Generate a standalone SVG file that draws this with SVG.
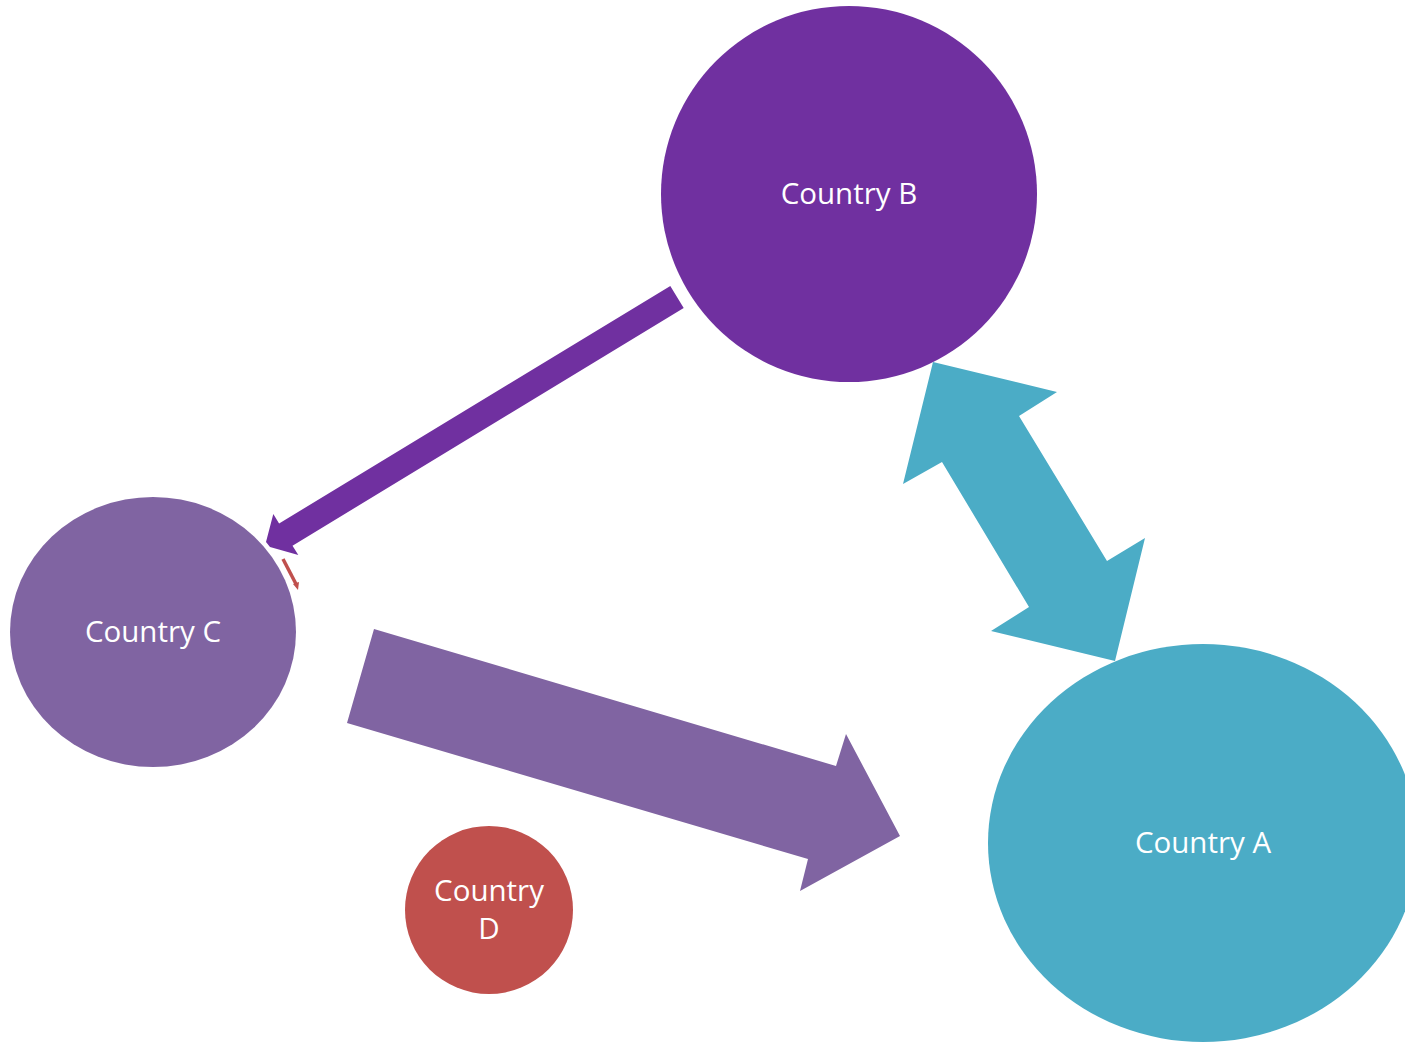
<svg xmlns="http://www.w3.org/2000/svg" width="1405" height="1042" viewBox="0 0 1405 1042">
<style>
text{font-family:"Open Sans","Liberation Sans",sans-serif;font-size:29.5px;fill:#fff;text-anchor:middle}
</style>
<rect width="1405" height="1042" fill="#fff"/>
<g id="node-b"><ellipse cx="849" cy="194" rx="188" ry="188" fill="#7030A0"/><text x="849" y="204">Country B</text></g>
<g id="node-c"><ellipse cx="153" cy="632" rx="143" ry="135" fill="#8064A2"/><text x="153" y="642">Country C</text></g>
<g id="node-d"><circle cx="489" cy="910" r="84" fill="#C0504D"/><text x="489" y="901">Country</text><text x="489" y="939">D</text></g>
<g id="node-a"><ellipse cx="1203" cy="843" rx="215" ry="199" fill="#4BACC6"/><text x="1203" y="853">Country A</text></g>
<g id="connectors">
<polygon fill="#7030A0" points="670.3,285.9 683.7,308.1 292.5,545.7 298.3,555.1 270,547 266,542 273.3,514.1 279.1,523.5"/>
<polygon fill="#4BACC6" points="933,362 1057,392 1019,416 1107,561 1145,538 1115,661 991,631 1029,607 942,462 903,484"/>
<polygon fill="#8064A2" points="374,629 836,766 846,734 900,836 800,891 808,859 347,723"/>
<g id="edge-d-c"><line x1="283" y1="559" x2="296" y2="584" stroke="#C0504D" stroke-width="3.5"/><polygon fill="#C0504D" points="293,584 299,582 298,590"/></g>
</g>
</svg>
